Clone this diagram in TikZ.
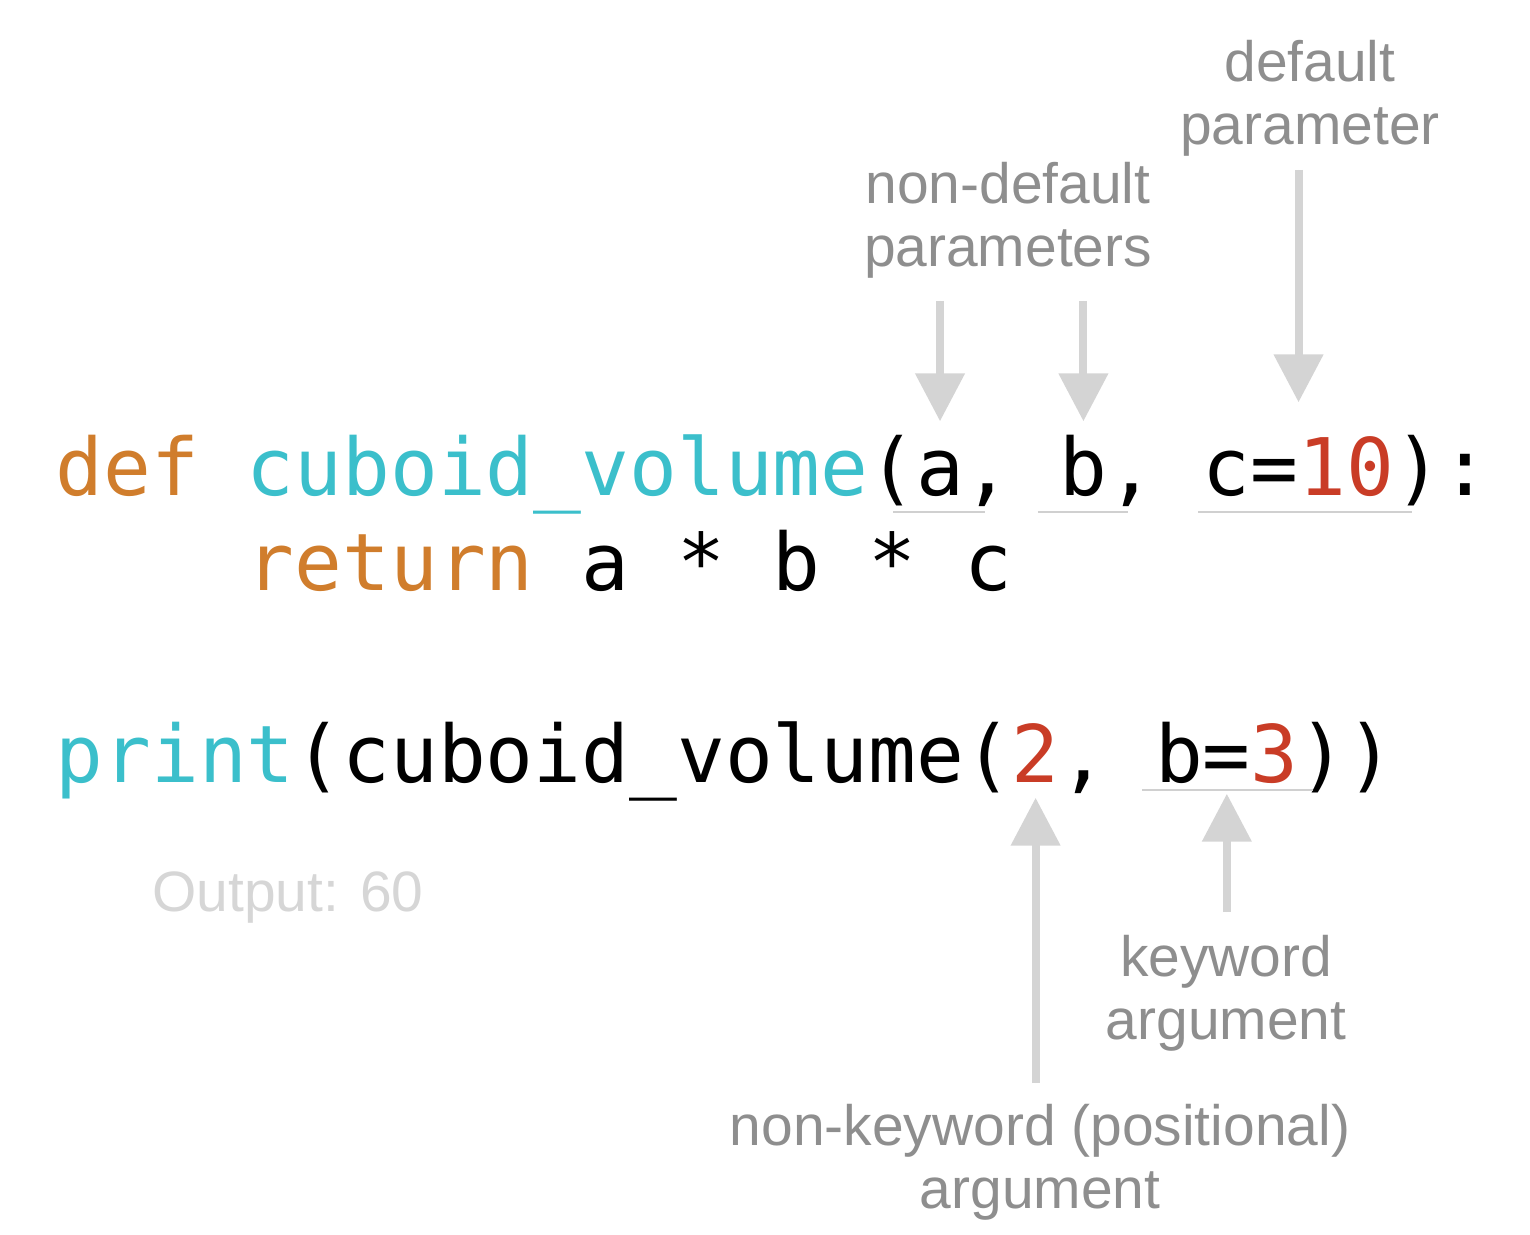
\documentclass[tikz,border=0pt]{standalone}
\usepackage{fontspec}
\setmainfont{Liberation Sans}
\newfontfamily\codefont{DejaVu Sans Mono}
\usepackage{xcolor}
\usetikzlibrary{arrows.meta, positioning}

\definecolor{kworange}{HTML}{D07D2C}
\definecolor{functeal}{HTML}{3BBFCB}
\definecolor{numred}{HTML}{C93C26}
\definecolor{labgray}{HTML}{8E8E8E}
\definecolor{arrgray}{HTML}{D4D4D4}
\definecolor{outgray}{HTML}{D6D6D6}
\definecolor{ulgray}{HTML}{D0D0D0}

\def\cw{0.478}

\tikzset{
	code/.style={font=\codefont\fontsize{22.6}{27}\selectfont, inner sep=0pt, anchor=base west, text height=0.5cm, text depth=0pt},
	note/.style={font=\fontsize{16.2}{18}\selectfont, text=labgray, align=center, inner sep=0pt},
	arr/.style={-{Triangle[width=0.48cm, length=0.48cm]}, draw=arrgray, fill=arrgray, line width=0.08cm},
	uline/.style={draw=ulgray, line width=0.02cm}
}

\begin{document}
\begin{tikzpicture}
		\useasboundingbox (0,0) rectangle (15.3,-12.34);
		
		% code, line 1
		\node[code, text=kworange] (kdef) at ({0.55+0*\cw},-4.95) {def};
		\node[code, text=functeal] (fname) at ({0.55+4*\cw},-4.95) {cuboid\_volume};
		\node[code] (lp1) at ({0.55+17*\cw},-4.95) {(};
		\node[code] (pa) at ({0.55+18*\cw},-4.95) {a};
		\node[code] (cm1) at ({0.55+19*\cw},-4.95) {,};
		\node[code] (pb) at ({0.55+21*\cw},-4.95) {b};
		\node[code] (cm2) at ({0.55+22*\cw},-4.95) {,};
		\node[code] (pc) at ({0.55+24*\cw},-4.95) {c=\textcolor{numred}{10}};
		\node[code] (rp1) at ({0.55+28*\cw},-4.95) {):};
		
		% code, line 2
		\node[code, text=kworange] (kret) at ({0.55+4*\cw},-5.90) {return};
		\node[code] (body) at ({0.55+11*\cw},-5.90) {a * b * c};
		
		% code, line 3
		\node[code, text=functeal] (kprint) at ({0.55+0*\cw},-7.82) {print};
		\node[code] (call) at ({0.55+5*\cw},-7.82) {(cuboid\_volume(};
		\node[code, text=numred] (ar2) at ({0.55+20*\cw},-7.82) {2};
		\node[code] (cm3) at ({0.55+21*\cw},-7.82) {,};
		\node[code] (kb) at ({0.55+23*\cw},-7.82) {b=\textcolor{numred}{3}};
		\node[code] (rp3) at ({0.55+26*\cw},-7.82) {))};
		
		\node[note, text=outgray] (out) at (2.88,-8.98) {Output: 60};
		
		% labels
		\node[note] (dp) at (13.10,-0.98) {default\\parameter};
		\node[note] (ndp) at (10.08,-2.20) {non-default\\parameters};
		\node[note] (kwa) at (12.26,-9.93) {keyword\\argument};
		\node[note] (nkp) at (10.40,-11.62) {non-keyword (positional)\\argument};
		
		% underlines
		\draw[uline] ([xshift=-0.22cm, yshift=-0.17cm]pa.base west) -- ([xshift=0.2cm, yshift=-0.17cm]pa.base east);
		\draw[uline] ([xshift=-0.21cm, yshift=-0.17cm]pb.base west) -- ([xshift=0.2cm, yshift=-0.17cm]pb.base east);
		\draw[uline] ([xshift=-0.04cm, yshift=-0.17cm]pc.base west) -- ([xshift=0.17cm, yshift=-0.17cm]pc.base east);
		\draw[uline] ([xshift=-0.12cm, yshift=-0.08cm]kb.base west) -- ([xshift=0.14cm, yshift=-0.08cm]kb.base east);
		
		% arrows
		\draw[arr, shorten <=0.22cm, shorten >=0.23cm] (ndp.south -| pa.north) -- (pa.north);
		\draw[arr, shorten <=0.22cm, shorten >=0.23cm] (ndp.south -| pb.north) -- (pb.north);
		\draw[arr, shorten <=0.13cm, shorten >=0.42cm] (dp.south -| pc.north) -- (pc.north);
		\draw[arr, shorten <=0.2cm, shorten >=0.15cm] (nkp.north -| ar2.south) -- (ar2.south);
		\draw[arr, shorten <=0.22cm, shorten >=0.11cm] (kwa.north -| kb.south) -- (kb.south);
\end{tikzpicture}
\end{document}
